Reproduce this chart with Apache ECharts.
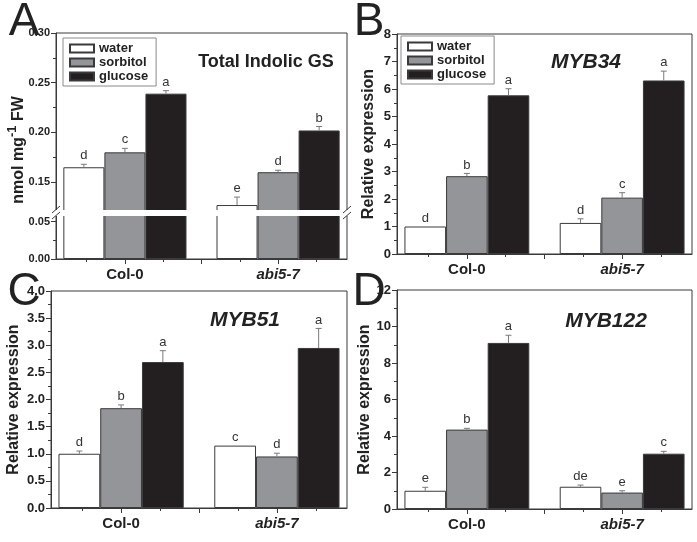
<!DOCTYPE html>
<html>
<head>
<meta charset="utf-8">
<title>Indolic GS and MYB expression</title>
<script src="https://cdn.jsdelivr.net/npm/echarts@6/dist/echarts.min.js"></script>
<style>
  html, body { margin: 0; padding: 0; background: #fff; }
  #main { width: 697px; height: 542px; }
</style>
</head>
<body>
<div id="main"></div>
<script>
// genotypes sit at x = 1 and x = 3 on a value axis
const genotypes = ['Col-0', 'abi5-7'];
const genoPos = [1, 3];
const treatments = ['water', 'sorbitol', 'glucose'];

// A - total indolic GS (nmol mg-1 FW)
const gsWater = [0.165, 0.127];
const gsSorbitol = [0.180, 0.160];
const gsGlucose = [0.239, 0.202];
const gsWaterSd = [0.003, 0.008];
const gsSorbitolSd = [0.004, 0.002];
const gsGlucoseSd = [0.003, 0.004];
const gsLetters = [['d', 'e'], ['c', 'd'], ['a', 'b']];

// B - MYB34
const myb34Water = [1.0, 1.13];
const myb34Sorbitol = [2.83, 2.05];
const myb34Glucose = [5.77, 6.31];
const myb34WaterSd = [0, 0.15];
const myb34SorbitolSd = [0.10, 0.18];
const myb34GlucoseSd = [0.24, 0.34];
const myb34Letters = [['d', 'd'], ['b', 'c'], ['a', 'a']];

// C - MYB51
const myb51Water = [1.0, 1.15];
const myb51Sorbitol = [1.84, 0.95];
const myb51Glucose = [2.69, 2.95];
const myb51WaterSd = [0.05, 0];
const myb51SorbitolSd = [0.06, 0.06];
const myb51GlucoseSd = [0.21, 0.36];
const myb51Letters = [['d', 'c'], ['b', 'd'], ['a', 'a']];

// D - MYB122
const myb122Water = [1.0, 1.22];
const myb122Sorbitol = [4.35, 0.90];
const myb122Glucose = [9.10, 3.03];
const myb122WaterSd = [0.19, 0.09];
const myb122SorbitolSd = [0.07, 0.10];
const myb122GlucoseSd = [0.42, 0.13];
const myb122Letters = [['e', 'de'], ['b', 'e'], ['a', 'c']];

// tick values
const xMajorTicks = [1, 2, 3];
const xMinorTicks = [0.5, 1.5, 2.5, 3.5];
const gsUpperTicks = [0.15, 0.20, 0.25, 0.30];
const gsUpperMinor = [0.175, 0.225, 0.275];
const gsLowerTicks = [0.00, 0.05];
const gsLowerMinor = [0.025];

const font = '"Liberation Sans", Arial, Helvetica, sans-serif';
const fills = ['#ffffff', '#939598', '#231f20'];
const edge = '#3a3a3a';
const BAR_PCT = 0.268;   // bar width as part of the 2-unit gap between genotypes

const chart = echarts.init(document.getElementById('main'));

function pts(vals) {
  return vals.map((v, i) => [genoPos[i], v]);
}
function errPts(vals, sd) {
  return vals.map((v, i) => [genoPos[i], v, sd[i]]);
}

function grid(l, r, t, b) {
  return { left: l, right: r, top: t, bottom: b, show: true, borderColor: edge, borderWidth: 1, outerBoundsMode: 'none' };
}

function xMain(gi, show) {
  return {
    type: 'value', gridIndex: gi, min: 0.1, max: 3.9, position: 'bottom', show: show,
    splitLine: { show: false },
    axisLine: { show: true, onZero: false, lineStyle: { color: edge } },
    axisTick: { show: true, length: 5, customValues: xMajorTicks, lineStyle: { color: edge } },
    axisLabel: {
      show: true, margin: 8, customValues: genoPos,
      formatter: v => (v === 1 ? '{n|' + genotypes[0] + '}' : '{i|' + genotypes[1] + '}'),
      rich: {
        n: { fontFamily: font, fontSize: 15, fontWeight: 'bold', color: '#222' },
        i: { fontFamily: font, fontSize: 15, fontWeight: 'bold', fontStyle: 'italic', color: '#222' }
      }
    }
  };
}
function xMinor(gi) {
  return {
    type: 'value', gridIndex: gi, min: 0.1, max: 3.9, position: 'bottom',
    splitLine: { show: false }, axisLine: { show: false, onZero: false },
    axisTick: { show: true, length: 3, customValues: xMinorTicks, lineStyle: { color: edge } },
    axisLabel: { show: false }
  };
}
function yLabelStyle(size, digits) {
  return {
    fontFamily: font, fontSize: size, fontWeight: 'bold', color: '#222', margin: 6,
    formatter: v => v.toFixed(digits)
  };
}
function yMain(gi, min, max, interval, size, digits, name, gap) {
  return {
    type: 'value', gridIndex: gi, min: min, max: max, interval: interval, position: 'left',
    splitLine: { show: false },
    axisLine: { show: true, onZero: false, lineStyle: { color: edge } },
    axisTick: { show: true, length: 5, lineStyle: { color: edge } },
    minorTick: { show: true, splitNumber: 2, length: 3, lineStyle: { color: edge } },
    axisLabel: yLabelStyle(size, digits),
    name: name, nameLocation: 'middle', nameGap: gap,
    nameTextStyle: { fontFamily: font, fontSize: 16, fontWeight: 'bold', color: '#222' }
  };
}
function yCustom(gi, min, max, ticks, minor) {
  return [{
    type: 'value', gridIndex: gi, min: min, max: max, position: 'left',
    splitLine: { show: false },
    axisLine: { show: true, onZero: false, lineStyle: { color: edge } },
    axisTick: { show: true, length: 5, customValues: ticks, lineStyle: { color: edge } },
    axisLabel: Object.assign(yLabelStyle(11, 2), { customValues: ticks })
  }, {
    type: 'value', gridIndex: gi, min: min, max: max, position: 'left',
    splitLine: { show: false }, axisLine: { show: false, onZero: false },
    axisTick: { show: true, length: 3, customValues: minor, lineStyle: { color: edge } },
    axisLabel: { show: false }
  }];
}

function barSeries(xi, yi, k, vals) {
  return {
    type: 'bar', name: treatments[k], xAxisIndex: xi, yAxisIndex: yi,
    data: pts(vals), barWidth: (BAR_PCT * 100) + '%', barGap: '0%', clip: true, silent: true,
    itemStyle: { color: fills[k], borderColor: edge, borderWidth: 1 }
  };
}
function errSeries(xi, yi, k, vals, sd, letters) {
  return {
    type: 'custom', xAxisIndex: xi, yAxisIndex: yi, silent: true, clip: false, z: 5,
    data: errPts(vals, sd),
    encode: { x: 0, y: 1 },
    renderItem: function (params, api) {
      const x = api.value(0), v = api.value(1), e = api.value(2);
      const bw = api.size([2, 0])[0] * BAR_PCT;
      const base = api.coord([x, v]);
      const cx = base[0] + (k - 1) * bw;
      const top = api.coord([x, v + e])[1];
      const kids = [];
      if (e > 0) {
        kids.push({ type: 'line', shape: { x1: cx, y1: base[1], x2: cx, y2: top }, style: { stroke: '#7a7a7a', lineWidth: 1 } });
        kids.push({ type: 'line', shape: { x1: cx - 3, y1: top, x2: cx + 3, y2: top }, style: { stroke: '#7a7a7a', lineWidth: 1 } });
      }
      kids.push({
        type: 'text', x: cx, y: top - 2,
        style: { text: letters[k][params.dataIndex], textAlign: 'center', textVerticalAlign: 'bottom', font: '13px ' + font, fill: '#333' }
      });
      return { type: 'group', children: kids };
    }
  };
}
function panel(xi, yi, water, sorb, gluc, wSd, sSd, gSd, letters) {
  return [
    barSeries(xi, yi, 0, water), barSeries(xi, yi, 1, sorb), barSeries(xi, yi, 2, gluc),
    errSeries(xi, yi, 0, water, wSd, letters),
    errSeries(xi, yi, 1, sorb, sSd, letters),
    errSeries(xi, yi, 2, gluc, gSd, letters)
  ];
}

function legendAt(l, t) {
  return {
    data: treatments, orient: 'vertical', left: l, top: t, icon: 'rect',
    itemWidth: 24, itemHeight: 8, itemGap: 1, padding: [4, 8, 3, 6],
    borderColor: '#8a8a8a', borderWidth: 1, backgroundColor: '#fff', selectedMode: false,
    textStyle: { fontFamily: font, fontSize: 13, fontWeight: 'bold', color: '#222' }
  };
}
function label(text, x, y, size, extra) {
  return {
    type: 'text', x: x, y: y, z: 110,
    style: Object.assign({ text: text, font: size + 'px ' + font, fill: '#222', textAlign: 'center', textVerticalAlign: 'middle' }, extra || {})
  };
}
function slash(x1, y1, x2, y2) {
  return { type: 'line', z: 111, shape: { x1: x1, y1: y1, x2: x2, y2: y2 }, style: { stroke: edge, lineWidth: 1 } };
}

const option = {
  animation: false,
  backgroundColor: '#fff',
  grid: [
    grid(56, 350, 33, 329),     // A upper part
    grid(56, 350, 213, 283),    // A lower part
    grid(397, 5, 34, 288),      // B
    grid(51, 350, 291, 34),     // C
    grid(397, 5, 290, 33)       // D
  ],
  xAxis: [
    xMain(0, false),
    xMain(1, true), xMinor(1),
    xMain(2, true), xMinor(2),
    xMain(3, true), xMinor(3),
    xMain(4, true), xMinor(4)
  ],
  yAxis: [].concat(
    yCustom(0, 0.119, 0.30, gsUpperTicks, gsUpperMinor),
    yCustom(1, 0, 0.0617, gsLowerTicks, gsLowerMinor),
    [
      yMain(2, 0, 8, 1, 13, 0, 'Relative expression', 20),
      yMain(3, 0, 4, 0.5, 13, 1, 'Relative expression', 29),
      yMain(4, 0, 12, 2, 13, 0, 'Relative expression', 21)
    ]
  ),
  legend: [legendAt(63, 38), legendAt(401, 36)],
  series: [].concat(
    panel(0, 0, gsWater, gsSorbitol, gsGlucose, gsWaterSd, gsSorbitolSd, gsGlucoseSd, gsLetters),
    [barSeries(1, 2, 0, gsWater), barSeries(1, 2, 1, gsSorbitol), barSeries(1, 2, 2, gsGlucose)],
    panel(3, 4, myb34Water, myb34Sorbitol, myb34Glucose, myb34WaterSd, myb34SorbitolSd, myb34GlucoseSd, myb34Letters),
    panel(5, 5, myb51Water, myb51Sorbitol, myb51Glucose, myb51WaterSd, myb51SorbitolSd, myb51GlucoseSd, myb51Letters),
    panel(7, 6, myb122Water, myb122Sorbitol, myb122Glucose, myb122WaterSd, myb122SorbitolSd, myb122GlucoseSd, myb122Letters)
  ),
  graphic: [
    // white gap of the broken axis in A
    { type: 'rect', z: 100, shape: { x: 50, y: 210, width: 302, height: 6 }, style: { fill: '#fff' } },
    slash(52, 213, 60, 206), slash(52, 219, 60, 212),
    slash(343, 213, 351, 206), slash(343, 219, 351, 212),
    // panel letters
    label('A', 24, 22, 46), label('B', 369, 22, 46), label('C', 24, 292, 46), label('D', 369, 292, 46),
    // titles
    label('Total Indolic GS', 266, 62, 18, { font: 'bold 18px ' + font }),
    label('MYB34', 586, 62, 21, { font: 'italic bold 21px ' + font }),
    label('MYB51', 245, 320, 21, { font: 'italic bold 21px ' + font }),
    label('MYB122', 606, 321, 21, { font: 'italic bold 21px ' + font }),
    // y name of A, with superscript
    {
      type: 'text', x: 12, y: 150, rotation: Math.PI / 2, z: 110,
      style: {
        text: '{n|nmol mg}{s|-1}{n| FW}', textAlign: 'center', textVerticalAlign: 'middle',
        rich: {
          n: { fontFamily: font, fontSize: 16, fontWeight: 'bold', fill: '#222', verticalAlign: 'bottom' },
          s: { fontFamily: font, fontSize: 13, fontWeight: 'bold', fill: '#222', lineHeight: 30 }
        }
      }
    }
  ]
};

chart.setOption(option);
</script>
</body>
</html>
